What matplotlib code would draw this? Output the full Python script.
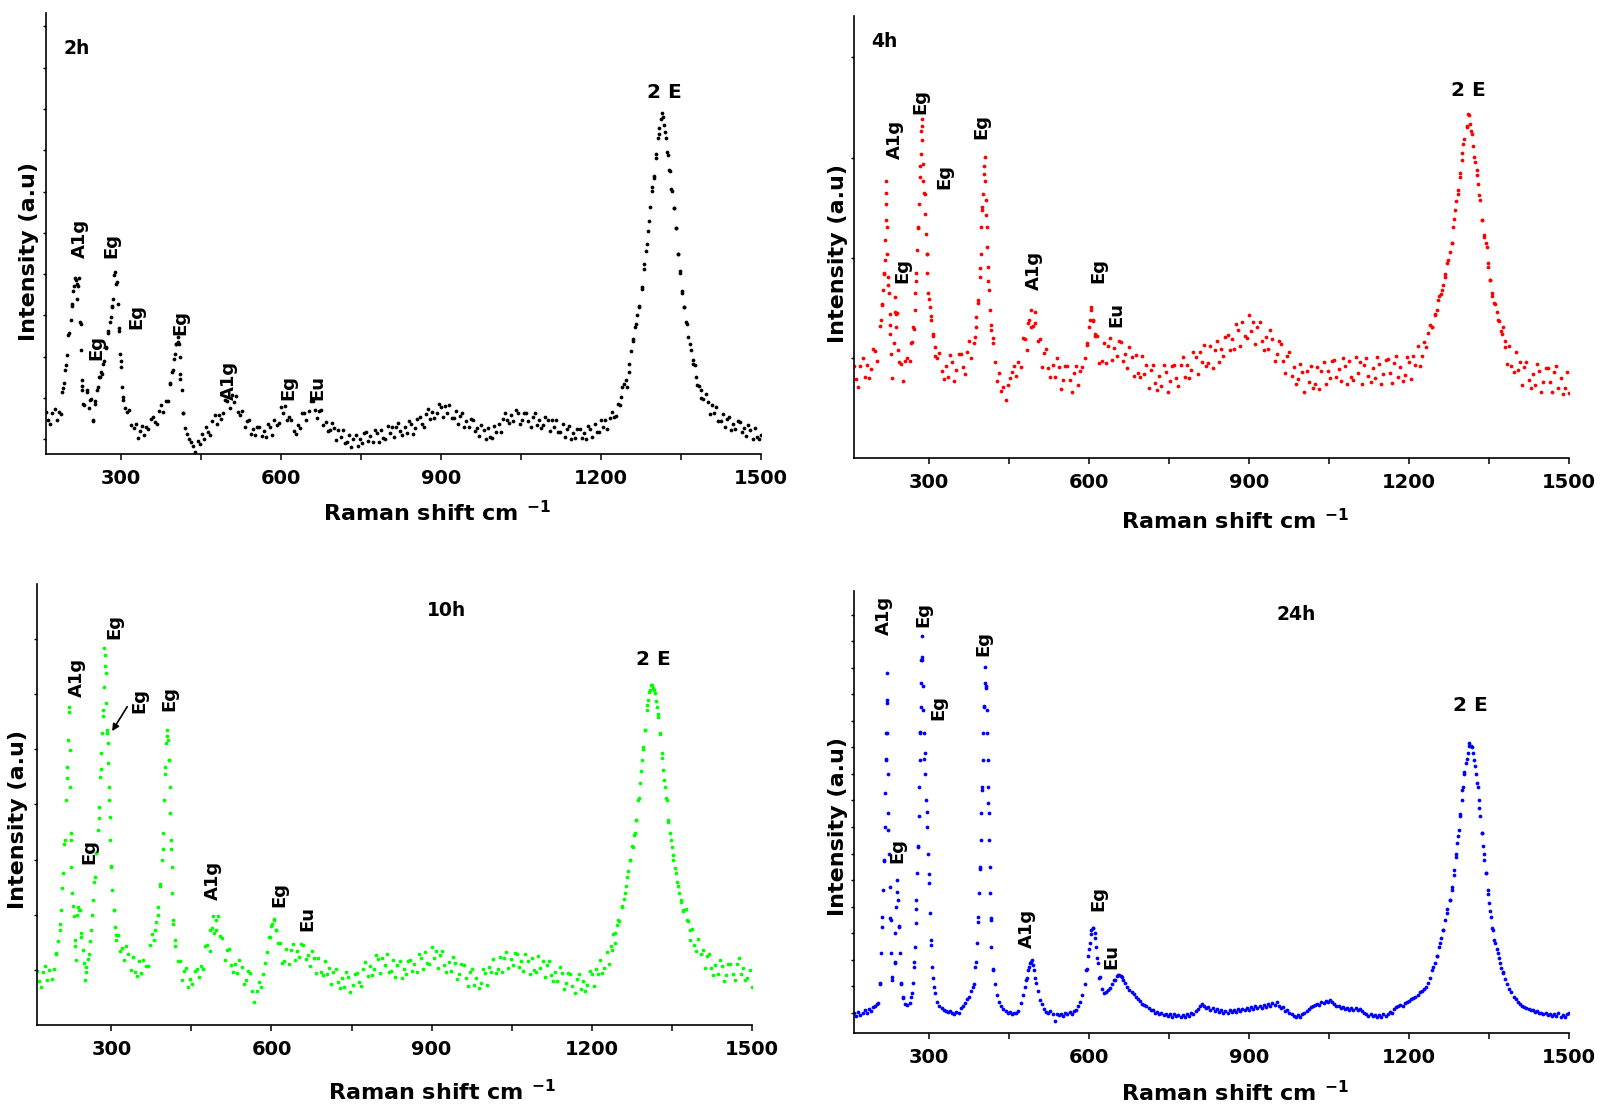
import numpy as np
import matplotlib.pyplot as plt

plt.rcParams['font.family'] = 'DejaVu Sans'
plt.rcParams['font.weight'] = 'bold'

# sampled Raman shift (cm-1), every 4 cm-1
shift = np.arange(160, 1501, 4)

# intensities (a.u.), one value per shift
int_2h = [9.5, 7.7, 6.7, 9.2, 10.2, 7.8, 9.5, 9.1, 15.0, 19.0, 22.5, 27.5, 33.5, 38.0, 39.5, 38.0, 30.0, 15.5, 11.0, 14.0, 10.5, 12.5, 7.5, 12.0, 14.5,
          17.5, 18.5, 21.0, 24.0, 27.5, 30.0, 33.5, 40.5, 38.5, 28.5, 21.0, 13.0, 10.5, 9.5, 10.0, 6.5, 5.8, 6.9, 3.7, 5.3, 6.4, 4.3, 6.2, 5.7, 8.0,
          8.5, 7.3, 6.8, 9.8, 11.2, 9.5, 12.1, 12.1, 15.8, 18.5, 21.5, 25.0, 25.5, 17.0, 9.2, 5.8, 4.5, 3.5, 2.8, 1.8, 0.5, 2.9, 2.2, 4.6, 3.5,
          6.1, 4.9, 4.4, 7.4, 8.8, 6.9, 8.9, 7.9, 9.4, 12.2, 12.0, 10.4, 13.4, 11.9, 13.2, 9.5, 8.8, 9.7, 6.2, 7.5, 7.8, 4.6, 5.6, 4.3, 6.1,
          6.1, 4.1, 5.2, 3.8, 6.7, 6.1, 4.4, 7.7, 6.5, 7.1, 10.6, 9.3, 10.8, 7.6, 8.4, 7.8, 5.2, 4.5, 6.6, 6.0, 9.4, 9.4, 7.8, 9.7, 12.1,
          12.1, 9.9, 8.2, 9.8, 9.9, 6.6, 7.3, 5.1, 5.4, 7.0, 5.8, 3.2, 5.5, 3.9, 5.5, 2.6, 2.7, 4.4, 1.5, 3.5, 4.3, 1.7, 3.3, 2.5, 4.8,
          5.0, 3.0, 4.1, 2.7, 5.5, 4.7, 2.7, 5.5, 3.7, 3.5, 6.4, 4.7, 6.2, 3.8, 6.2, 7.1, 5.2, 4.4, 6.1, 4.8, 7.5, 6.8, 4.6, 5.9, 8.0,
          8.3, 6.9, 6.2, 9.0, 10.2, 8.0, 9.6, 8.2, 9.2, 11.3, 10.6, 8.3, 10.8, 9.4, 11.1, 8.2, 8.2, 9.8, 6.8, 8.6, 9.2, 6.2, 7.4, 6.1, 7.9,
          7.6, 5.2, 5.9, 4.1, 6.6, 5.5, 3.3, 5.9, 3.9, 3.6, 6.4, 4.9, 6.9, 5.0, 7.9, 9.2, 7.6, 7.0, 8.8, 7.5, 10.0, 9.2, 6.7, 7.7, 9.4,
          9.3, 7.4, 6.2, 8.5, 9.2, 6.5, 7.7, 5.9, 6.6, 8.5, 7.6, 5.2, 7.6, 6.1, 7.8, 4.9, 5.0, 6.7, 3.8, 5.7, 6.4, 3.5, 4.8, 3.7, 5.7,
          5.7, 3.7, 4.8, 3.5, 6.4, 5.7, 3.8, 6.7, 5.0, 4.9, 7.8, 6.2, 7.8, 5.6, 8.2, 9.6, 8.4, 8.6, 11.3, 11.2, 15.1, 15.8, 15.2, 18.5, 23.3,
          26.0, 28.8, 31.5, 33.5, 37.5, 42.0, 46.0, 50.5, 56.0, 60.5, 63.0, 68.0, 72.5, 76.0, 76.5, 73.0, 68.5, 64.5, 60.0, 55.8, 51.3, 45.3, 41.0, 36.5, 33.3,
          30.0, 26.5, 23.5, 21.3, 20.1, 15.7, 15.5, 12.6, 12.4, 13.5, 11.9, 9.0, 11.0, 9.2, 10.6, 7.5, 7.5, 9.1, 6.1, 7.9, 8.5, 5.5, 6.8, 5.6, 7.5,
          7.3, 5.0, 5.8, 4.1, 6.6, 5.5, 3.3, 5.9, 3.9, 3.5, 4.3]

int_4h = [20.9, 17.9, 16.0, 20.8, 22.6, 18.2, 21.0, 18.1, 20.1, 24.7, 24.2, 22.0, 29.8, 34.5, 41.5, 60, 39, 30, 18, 33, 32.7, 21.6, 21.3, 17.5, 21.9,
          22.5, 22, 26.3, 29.1, 40, 52, 66, 75, 60, 46, 36, 32, 27.5, 23, 22.7, 23.7, 19.6, 17.8, 20.9, 18.4, 23.2, 21.8, 17.5, 19.9, 23.4,
          23.4, 20.6, 19.0, 24.0, 26.5, 22.7, 26, 29.5, 35, 43, 56, 66, 55, 40, 30, 27.2, 21.8, 17.3, 19.1, 15.2, 16.0, 13.0, 16.5, 18.0, 19.4,
          20.9, 18.5, 21.8, 20.6, 27.2, 26.9, 24.5, 31.1, 29.5, 29.9, 33.0, 26.4, 26.8, 20.5, 23.7, 24.7, 20.3, 18.3, 21.1, 18.2, 22.5, 20.5, 15.5, 17.6, 20.9,
          20.9, 17.6, 15.0, 19.3, 20.8, 16.4, 19.6, 20.5, 22.5, 25.5, 29.5, 33.5, 31, 27.5, 27.5, 21.4, 22.0, 26.1, 21.5, 25.4, 27.2, 22.1, 24.8, 23.0, 26.4,
          26.2, 22.0, 23.5, 20.4, 25.1, 22.9, 18.6, 23.3, 19.3, 18.3, 23.0, 19.0, 21.0, 15.9, 19.8, 21.1, 17.0, 15.3, 18.6, 16.2, 21.0, 19.5, 15.0, 17.3, 20.8,
          21.0, 18.0, 16.2, 21.0, 22.8, 18.3, 21.0, 18.0, 19.8, 24.0, 22.8, 18.9, 24.0, 21.8, 25.6, 20.7, 21.5, 25.3, 20.4, 24.5, 26.5, 21.6, 24.6, 23.1, 27.4,
          27.9, 24.5, 26.8, 24.6, 30.2, 28.9, 25.4, 30.8, 27.5, 27.1, 32.3, 28.6, 30.8, 25.7, 29.6, 30.7, 26.4, 24.5, 27.4, 24.6, 29.0, 27.0, 22.0, 23.6, 26.4,
          25.8, 21.9, 19.2, 23.1, 24.0, 18.6, 20.5, 16.7, 17.8, 21.3, 19.5, 15.0, 19.6, 17.1, 20.8, 15.9, 16.7, 20.5, 15.6, 19.7, 21.7, 16.8, 19.7, 18.0, 22.0,
          22.2, 18.3, 20.1, 17.4, 22.5, 20.7, 16.8, 21.9, 18.3, 17.7, 22.8, 19.2, 21.6, 16.8, 21.0, 22.5, 18.6, 17.1, 20.4, 18.0, 22.8, 21.3, 16.8, 18.9, 22.2,
          22.4, 19.1, 17.0, 21.5, 23.0, 18.2, 20.6, 17.3, 18.8, 22.9, 21.7, 17.8, 23.0, 21.0, 25.2, 20.9, 23.0, 26.2, 25.0, 28.2, 30.0, 29.5, 32.3, 33.5, 36.5,
          37, 39, 41.5, 44, 46.5, 48.5, 54, 58, 60.5, 64.5, 69, 72, 75, 77.5, 74, 70.5, 67, 64, 59.5, 53.7, 50.5, 48.5, 44, 40.2, 36.5,
          35, 33, 31, 28.8, 29.7, 26.4, 21.2, 25.3, 20.8, 19.5, 24.0, 19.8, 21.8, 16.6, 20.5, 21.7, 17.6, 15.9, 19.0, 16.5, 21.2, 19.6, 15.0, 17.1, 20.4,
          20.4, 17.1, 15.0, 19.5, 20.8, 15.8, 18.0, 14.5, 15.8, 19.5, 14.6]

int_10h = [12.3, 9.9, 8.6, 12.1, 13.4, 10.2, 12.4, 10.5, 12.6, 16, 19, 23, 31, 41, 56, 71, 42, 27, 18, 25, 26, 20, 14, 12, 15,
           19, 25, 32.5, 39, 47, 58, 70, 84, 67, 51, 36, 26, 20.5, 20.3, 16.7, 17.4, 14.8, 18.0, 16.0, 12.4, 15.4, 12.1, 11.1, 14.4, 11.8,
           14.8, 13.3, 13.3, 18.1, 20.7, 19.2, 23.4, 25.0, 32, 40, 57, 65.5, 60, 40, 23, 18, 14.5, 14.5, 10.1, 12.3, 13.0, 8.7, 10.5, 9.2, 12.3,
           12.8, 10.9, 13.4, 12.7, 18.0, 18.2, 16.8, 22.0, 20.9, 21.5, 24.7, 20.1, 19.8, 14.8, 16.9, 17.2, 13.6, 12.0, 13.9, 11.7, 14.7, 13.1, 9.3, 10.3, 12.3,
           11.8, 7.8, 5.3, 7.6, 9.7, 8.7, 11.5, 14, 16.5, 20, 22.5, 24, 21.5, 18.5, 18.7, 14.0, 14.4, 17.3, 13.8, 16.9, 18.4, 14.7, 16.8, 15.5, 18.3,
           18.1, 14.9, 15.8, 13.4, 16.8, 15.1, 11.8, 15.1, 12.1, 11.3, 14.6, 11.6, 13.0, 9.2, 12.0, 12.8, 9.7, 8.4, 10.6, 8.7, 12.1, 10.9, 7.5, 9.0, 11.6,
           11.8, 9.8, 8.8, 12.6, 14.2, 11.2, 13.4, 11.4, 12.8, 15.9, 14.9, 11.8, 15.3, 13.5, 16.0, 12.1, 12.3, 14.7, 10.8, 13.5, 14.6, 10.7, 12.7, 11.5, 14.6,
           14.8, 12.2, 13.8, 12.1, 16.2, 15.2, 12.6, 16.5, 14.1, 13.9, 17.7, 15.1, 16.7, 13.0, 15.9, 16.7, 13.5, 12.1, 14.2, 12.2, 15.4, 14.0, 10.4, 11.6, 13.8,
           13.5, 10.7, 8.9, 11.9, 12.8, 9.1, 10.7, 8.3, 9.5, 12.6, 11.8, 9.1, 13.1, 11.9, 15.0, 11.8, 12.6, 15.5, 12.1, 15.2, 16.6, 12.9, 14.9, 13.5, 16.3,
           16.2, 13.2, 14.4, 12.3, 16.0, 14.6, 11.6, 15.2, 12.5, 12.0, 15.6, 12.9, 14.5, 10.8, 13.7, 14.5, 11.3, 9.9, 12.0, 10.0, 13.2, 11.8, 8.2, 9.5, 11.8,
           11.6, 8.9, 7.3, 10.5, 11.6, 8.2, 10.0, 7.8, 9.1, 12.3, 11.5, 8.8, 12.7, 11.5, 14.7, 11.7, 12.9, 16.5, 13.8, 17.9, 20.7, 18.7, 22.7, 23.6, 27,
           28.5, 31.5, 35, 37.5, 40.5, 43, 46.5, 51.5, 57.5, 62.5, 67, 72.5, 75.5, 77, 76, 73.5, 70.5, 66, 60.5, 55.5, 51.5, 46, 42, 38.5, 35.5,
           32.5, 30, 27.8, 25.8, 26.2, 23.5, 19.3, 21.8, 18.1, 16.7, 19.5, 16.1, 17.1, 13.0, 15.6, 16.2, 12.9, 11.4, 13.5, 11.5, 14.7, 13.4, 9.9, 11.3, 13.8,
           13.8, 11.5, 10.3, 13.9, 15.2, 11.5, 12.9, 10.2, 10.6, 12.5, 8.7]

int_24h = [4.5, 3.8, 4.8, 4.0, 4.6, 5.2, 4.6, 5.5, 5.0, 5.8, 6.0, 6.5, 11, 24, 39, 62, 46, 26, 12, 16, 32, 24, 11, 8, 6.5,
           6.3, 6.7, 9, 16, 28, 42, 68, 85, 62, 50, 36, 20, 12.5, 9, 7, 6, 5.6, 5.2, 5, 4.7, 5, 4.5, 4.2, 4.8, 4.6,
           5.6, 6.2, 6.8, 7.6, 8.2, 9.5, 11, 16, 25, 37, 55, 74, 78, 52, 26, 14.5, 11, 8.5, 7, 6, 5.4, 5, 4.5, 4.8, 4.4,
           4.6, 4.5, 5, 6.8, 8.6, 10.5, 12.5, 15, 16, 15.3, 12.5, 9.5, 7.5, 6.5, 5.5, 4.8, 4.6, 5, 4.2, 2.8, 4.4, 4.0, 4.3, 3.9, 4.6,
           4.2, 4.8, 4.4, 5.0, 5.3, 6.0, 7.0, 8.5, 11, 14.5, 19, 22.5, 23.7, 21.5, 17, 12.5, 10, 9, 9.2, 9.7, 10.2, 11, 12, 12.8, 13.1,
           12.8, 12, 11.2, 10.5, 9.8, 9.2, 8.8, 8.2, 7.6, 7.2, 6.6, 6.4, 6, 5.6, 5.3, 5.1, 4.6, 4.8, 4.2, 4.5, 4.0, 4.3, 3.9, 4.2, 3.7,
           4.3, 3.8, 4.0, 3.5, 4.1, 3.6, 4.2, 3.9, 4.5, 4.2, 4.9, 5.4, 6.0, 6.6, 6.2, 5.6, 5.9, 5.2, 5.7, 5.0, 5.4, 4.7, 5.2, 4.6, 5.0,
           4.6, 5.1, 4.7, 5.2, 4.8, 5.4, 4.9, 5.5, 5.1, 5.7, 5.3, 5.8, 5.4, 6.0, 5.6, 6.1, 5.7, 6.3, 5.9, 6.5, 6.2, 6.8, 6.3, 6.9, 6.2,
           5.6, 5.9, 5.0, 5.2, 4.5, 4.2, 3.8, 3.5, 4.0, 3.7, 4.3, 4.6, 5.0, 5.4, 5.8, 6.0, 6.3, 6.6, 6.4, 6.9, 6.7, 7.2, 7.0, 7.4, 6.9,
           6.6, 6.2, 6.0, 5.6, 5.9, 5.4, 5.7, 5.2, 5.6, 5.3, 5.6, 5.2, 5.5, 4.9, 4.6, 4.2, 3.9, 4.3, 3.8, 4.1, 3.6, 4.0, 3.7, 4.2, 3.9,
           4.3, 4.8, 4.5, 5.4, 5.8, 6.0, 6.4, 6.2, 6.8, 7.0, 7.3, 7.6, 7.9, 8.1, 8.6, 9.2, 9.5, 10.0, 10.5, 11.3, 12.4, 14.2, 15.8, 17.5, 19.4,
           21.5, 23.3, 25.5, 28, 30, 32.3, 35.8, 40.5, 44.5, 49.5, 55, 59, 62, 65, 65, 63.3, 60.5, 56.5, 51, 45.2, 40.5, 36.1, 31.5, 27.5, 23.8,
           21, 19, 17, 14.8, 13.7, 12.3, 11, 10, 9.2, 8.2, 7.6, 7.0, 6.6, 6.2, 5.9, 5.6, 5.5, 5.2, 5.1, 4.8, 4.9, 4.5, 4.6, 4.3, 4.5,
           4.1, 4.4, 3.9, 4.3, 3.8, 4.6, 3.7, 4.1, 3.5, 4.2, 4.5]

# extra points read on the steep flanks of the bands
peak_x_2h = [189.4, 193.8, 197.5, 201.9, 206.3, 208.1, 211.3, 213.8, 217.5, 219, 221.5, 225, 225.6, 227, 228, 230, 236.3, 242.6,
             248.8, 252, 258.2, 261.3, 264.5, 267.6, 272.6, 277, 281.3, 283.2, 286.4, 289.5, 292.6, 294.5, 296.4, 298.9, 300.8,
             302.6, 305.1, 392.7, 397.7, 401.5, 404, 406.5, 408.4, 410.2, 411.5, 414, 416,
             1237.5, 1247, 1253, 1259.4, 1265.6, 1272, 1276.3, 1281.3, 1286.3, 1290.6, 1295, 1300, 1303, 1306, 1309.4, 1313.8,
             1317.5, 1322, 1325, 1329, 1332.6, 1336.3, 1340, 1344, 1347.6, 1351.3, 1356.4, 1361.4, 1366.4, 1372, 1378, 1387.6]
peak_y_2h = [14.1, 16, 20.1, 26.9, 30.3, 34, 37, 40, 38.5, 35.2, 40, 29.5, 23.5, 16.7, 14.5, 11.4, 14.4, 12.2,
             7.7, 11.4, 15.2, 17.5, 18.2, 20.5, 24.2, 28, 31, 33.3, 35.2, 41.2, 38.9, 34, 28, 22.7, 19.7,
             15.2, 12.2, 16, 19, 22.7, 25, 26.5, 25, 22, 18.2, 14.5, 9.2,
             12.9, 16.7, 20.5, 25.7, 29.5, 33.3, 37.8, 43, 47.6, 52.8, 59.6, 62.6, 67.1, 71.6, 73.9, 77.3,
             74.6, 71.6, 67.9, 64.1, 59.6, 55.8, 51.3, 45.3, 41.5, 37, 33.3, 29.5, 25, 20.5, 17.5, 14.5]

peak_x_4h = [210, 212.5, 214.4, 216.3, 217.5, 218.8, 219.4, 220, 220.6, 221.9, 222.5, 223.8, 225, 226.9, 227.5, 230, 235,
             236.3, 238, 239.4, 242.5, 267.5, 270.6, 273.8, 275, 276.9, 278.8, 280, 281.9, 283.1, 285, 286.3, 287.5, 288,
             289.4, 290, 292.5, 293.8, 295, 296.3, 297.5, 298.8, 301.9, 305, 308.1, 311.3, 386.3, 389.4, 392.5, 395.6,
             397.5, 398.8, 400.6, 401.9, 403.8, 405, 406.3, 407.5, 408.8, 410, 411.3, 412.5, 414.4, 417.5, 420.6, 486.3,
             492.5, 498.8, 597.5, 601.9, 605, 608.1, 611.3,
             1242.5, 1248.8, 1255, 1261, 1267.5, 1273.8, 1280, 1283, 1286, 1291, 1295.6, 1298.8, 1302, 1308, 1311, 1314.4,
             1317.5, 1322.5, 1327, 1330, 1333, 1336, 1341, 1345.6, 1348.8, 1352, 1355, 1361, 1367.5, 1373.8, 1380]
peak_y_4h = [31.2, 34.9, 37.9, 41.7, 44.7, 49.2, 53.7, 57.5, 62.7, 52.2, 46.2, 40.9, 37.2, 32.6, 28.1, 23.6, 25.9,
             36.4, 29.6, 32.6, 24.4, 25.9, 29.6, 33.4, 37.2, 41.7, 47, 52.2, 57.5, 63.5, 68.8, 74, 76.7, 71.8,
             66.5, 62.7, 59.7, 55.2, 50.7, 46.2, 41.7, 37.2, 34.2, 31.2, 28.1, 25.1, 27.4, 31.9, 35.7, 40.9,
             46.2, 52.2, 56.7, 59.7, 64.2, 68, 62.7, 58.2, 52.2, 47.7, 43.2, 37.9, 33.4, 28.9, 25.9, 30.4,
             33.4, 30.4, 25.9, 31.2, 34.2, 31.2, 28.1,
             29.6, 32.6, 35.7, 37.9, 40.9, 44.7, 48.5, 52.2, 56, 59.7, 63.5, 67.3, 71, 74.8, 77.8, 75.5,
             73.3, 68, 65, 62, 58.2, 53.7, 50, 47.7, 43.2, 40.2, 37.2, 34.9, 31.2, 28.1, 25.1]

peak_x_10h = [196.8, 203, 206, 209.3, 212.4, 214.3, 216.8, 218.7, 220.6, 221.8, 223, 223.7, 225, 226.8, 229.3, 231.2, 234.3,
              237.4, 240.6, 243.7, 246.8, 250, 253, 258, 262.4, 265.6, 268.7, 271.8, 275, 276.8, 279.3, 281.2, 283, 284.3,
              285.6, 286.2, 287.4, 289.3, 290.6, 291.8, 293.7, 294.3, 295.6, 296.8, 298, 300, 301.8, 304.3, 306.8, 309.3,
              381.2, 387.4, 391.8, 395, 396.8, 398.7, 400.6, 403, 405, 406.8, 408, 409.3, 410.6, 411.8, 413, 414.3, 415.6,
              418.7, 484.3, 490.6, 496.8, 596.8, 601.2, 604.3, 608,
              1237.4, 1243.7, 1250, 1256, 1262.4, 1266.8, 1271.8, 1276.8, 1281, 1284, 1287.4, 1290.6, 1293.7, 1296.8, 1300,
              1303, 1306.2, 1309.3, 1312.4, 1315.6, 1318.7, 1321.8, 1325, 1328, 1331, 1334.3, 1337.4, 1340.6, 1343.7,
              1346.8, 1350, 1353, 1358, 1362.4, 1366.8, 1371.8, 1378, 1384.3]
peak_y_10h = [16.3, 21.5, 26.1, 34.4, 42, 51, 58.6, 64.6, 72.2, 62.4, 54, 43.5, 35.9, 29.9, 24.6, 19.3, 14.7,
              26.8, 26.1, 20.8, 17, 10.2, 13.2, 16.2, 21.5, 28.3, 33.6, 38.9, 44.2, 49.5, 56.3, 61.6, 66.1, 71.4,
              76.7, 85.4, 81.3, 79.7, 73, 66.1, 63.9, 59.3, 54, 47.2, 41.9, 35.9, 30.6, 26.1, 22.3, 19.3,
              21.5, 26.8, 31.4, 37.4, 43.5, 51, 58.6, 63.9, 66.9, 64.6, 60.1, 54, 48, 41.9, 35.9, 29.9, 23.8,
              19.3, 21.5, 24.6, 23.8, 20, 23, 23.8, 21.5,
              17, 20.8, 23.8, 26.8, 29.9, 33.6, 37.4, 40.4, 43.5, 46.5, 51, 54.8, 60.1, 63.1, 66.9,
              71.4, 73.7, 76, 77.1, 76.3, 75.2, 72.2, 69.9, 66.1, 61.6, 57.8, 54, 51, 46.5,
              43.5, 40.4, 37.4, 34.4, 31.4, 28.3, 26.1, 23.8, 21.5]

peak_x_24h = [205, 208, 211, 212.5, 214.4, 216.3, 217.5, 218.8, 220, 220.6, 221.3, 221.6, 221.9, 222.5, 223.1, 223.8, 225,
              226.9, 228.8, 230, 231.9, 236.3, 237.5, 239.4, 241.3, 242.5, 244.4, 245.6, 248.8, 251.9, 267.5, 270.6, 272.5,
              273.8, 275.6, 276.9, 278.8, 280, 281.3, 282.5, 283.1, 284.4, 285, 285.6, 286.3, 286.9, 288.1, 288.8, 289.4,
              291.3, 292.5, 293.8, 295.6, 297.5, 298.8, 300.6, 301.9, 303.8, 306.3, 310, 383.1, 387.5, 390.6, 392.5, 394.4,
              396.3, 397.5, 398.8, 400, 401.3, 402.5, 403.8, 405, 406.3, 408.1, 409.4, 410, 411.3, 411.9, 412.5, 413.8,
              414.4, 415.6, 416.3, 417.5, 420.6, 483.1, 486.3, 489.4, 493.8, 497.5, 501.9, 595.6, 598.8, 601.9, 605, 608.1,
              611.3, 614.4, 617.5, 620.6, 648.8, 655, 661.3,
              1245.6, 1251.9, 1258, 1264.4, 1270.6, 1276.9, 1281.3, 1285, 1287.5, 1290.6, 1293.8, 1295.6, 1298.8, 1300.6,
              1303.8, 1306.3, 1310, 1313, 1317.5, 1322.5, 1325.6, 1328.8, 1331.3, 1333.8, 1336.3, 1338.8, 1341.3, 1344.4,
              1347.5, 1350, 1353.8, 1357, 1361.3, 1366.3, 1370.6, 1376.9]
peak_y_24h = [6.7, 11.2, 18, 26.3, 32.4, 39.2, 46.7, 54.2, 61.8, 67.8, 74.6, 81.4, 75.3, 67.8, 58.7, 49.7, 40.6,
              33.1, 25.6, 18, 12.7, 15.8, 22.6, 28.6, 34.6, 30.1, 24.1, 18, 11.2, 8.2, 8.2, 11.2, 15,
              19.5, 24.8, 30.1, 36.1, 42.2, 49, 55.7, 61.8, 67.8, 73.8, 79.1, 84.4, 89.7, 84.4, 78.4, 73.1,
              67.8, 63.3, 58.7, 52.7, 46.7, 40.6, 33.9, 27.1, 21.1, 15, 10.5, 10.5, 15, 20.3, 26.3, 31.6,
              37.6, 43.7, 49.7, 55.7, 61.8, 67.8, 73.8, 79.1, 82.9, 78.4, 73.1, 67.8, 61.8, 55.7, 49.7, 43.7,
              37.6, 31.6, 25.6, 19.5, 14.3, 12, 14.3, 15.8, 16.4, 14.3, 11.2, 14.3, 17.3, 20.3, 23.3, 23.7,
              22.6, 19.5, 15.8, 12.7, 12, 13.1, 12.7,
              15, 17.3, 20.3, 23.3, 27.1, 30.1, 33.1, 36.9, 39.9, 42.9, 46, 49, 52.7, 55.7,
              58.7, 61, 63.3, 65.5, 64.8, 61.8, 58.7, 55.7, 52.7, 49, 45.2, 42.2, 39.2, 36.1,
              32.4, 29.3, 26.3, 23.3, 20.3, 18, 15.8, 13.5]

# band labels: (text, shift, intensity at the foot of the rotated label)
bands_2h = [('A1g', 223.8, 44.5), ('Eg', 283.2, 44.5), ('Eg', 255, 21.2), ('Eg', 330.2, 28.4), ('Eg', 411.5, 26.9),
            ('A1g', 502.2, 12.2), ('Eg', 614.9, 12.2), ('Eu', 669.3, 12.2)]
bands_4h = [('A1g', 236.3, 67.6), ('Eg', 285, 77.8), ('Eg', 330, 60.9), ('Eg', 398.8, 72.2), ('Eg', 250, 39.6),
            ('A1g', 497.5, 37.9), ('Eg', 617.5, 39.6), ('Eu', 651.9, 29.6)]
bands_10h = [('A1g', 236.2, 74.4), ('Eg', 306.2, 87.5), ('Eg', 353, 70.8), ('Eg', 409.3, 71.2), ('Eg', 258, 36.4),
             ('A1g', 490.5, 28.3), ('Eg', 615.5, 26.8), ('Eu', 666.8, 21.2)]
bands_24h = [('A1g', 216.3, 90), ('Eg', 289.4, 91.9), ('Eg', 317.5, 70.8), ('Eg', 401.9, 85.3), ('Eg', 241.3, 38.4),
             ('A1g', 483.1, 19.2), ('Eg', 618.8, 27.7), ('Eu', 642.5, 14.4)]

panels = [
    dict(tag='2h', tag_xy=(218, 91.9), color='black', y=int_2h, px=peak_x_2h, py=peak_y_2h, bands=bands_2h,
         e_xy=(1318.8, 82.0), rect=[0.0286, 0.591, 0.4447, 0.3973], yt=(3.3, 9.37),
         xl=(0.547, -0.134), yl=(-0.0238, 0.46)),
    dict(tag='4h', tag_xy=(216, 94.1), color='#ff0000', y=int_4h, px=peak_x_4h, py=peak_y_4h, bands=bands_4h,
         e_xy=(1312, 83.0), rect=[0.5311, 0.5874, 0.4447, 0.3986], yt=(22.5, 22.7),
         xl=(0.533, -0.142), yl=(-0.0224, 0.463)),
    dict(tag='10h', tag_xy=(928, 93.9), color='#00ff00', y=int_10h, px=peak_x_10h, py=peak_y_10h, bands=bands_10h,
         e_xy=(1315.6, 82.9), rect=[0.0228, 0.0766, 0.4447, 0.3973], yt=(12.5, 12.5),
         xl=(0.567, -0.152), yl=(-0.0255, 0.465)),
    dict(tag='24h', tag_xy=(989.4, 94.6), color='#0000ff', y=int_24h, px=peak_x_24h, py=peak_y_24h, bands=bands_24h,
         e_xy=(1315.6, 74.2), rect=[0.5311, 0.0694, 0.4447, 0.3982], yt=(4.6, 6.0),
         xl=(0.533, -0.136), yl=(-0.0224, 0.467)),
]

fig = plt.figure(figsize=(16.08, 11.10), dpi=100)

for p in panels:
    ax = fig.add_axes(p['rect'])
    ax.plot(shift, p['y'], 'o', ms=2.7, mew=0, color=p['color'])
    ax.plot(p['px'], p['py'], 'o', ms=2.7, mew=0, color=p['color'])
    ax.set_xlim(160, 1500)
    ax.set_ylim(0, 100)

    for s in ['top', 'right']:
        ax.spines[s].set_visible(False)
    for s in ['left', 'bottom']:
        ax.spines[s].set_linewidth(1.2)

    ax.set_xticks([300, 600, 900, 1200, 1500])
    ax.set_xticks([450, 750, 1050, 1350], minor=True)
    ax.tick_params(axis='x', which='both', direction='out', length=4.5, width=1.1, labelsize=14, pad=6)
    start, step = p['yt']
    ax.set_yticks(np.arange(start, 100, step))
    ax.set_yticklabels([])
    ax.tick_params(axis='y', direction='out', length=2.5, width=1)

    ax.set_xlabel('Raman shift cm $^{\\mathbf{-1}}$', fontsize=16, fontweight='bold')
    ax.xaxis.set_label_coords(*p['xl'])
    ax.xaxis.label.set_va('center')
    ax.set_ylabel('Intensity (a.u)', fontsize=16, fontweight='bold')
    ax.yaxis.set_label_coords(*p['yl'])
    ax.yaxis.label.set_va('center')

    ax.text(*p['tag_xy'], p['tag'], ha='center', va='center', fontsize=13.5, fontweight='bold')
    ax.text(*p['e_xy'], '2 E', ha='center', va='center', fontsize=14.5, fontweight='bold')
    for name, bx, by in p['bands']:
        ax.text(bx, by, name, rotation=90, ha='center', va='bottom', fontsize=13, fontweight='bold')

    if p['tag'] == '10h':
        ax.annotate('', xy=(298.7, 66.1), xytext=(332.4, 72.7),
                    arrowprops=dict(arrowstyle='-|>', color='black', lw=1.2, mutation_scale=10))

fig.savefig('out.png', dpi=100)
